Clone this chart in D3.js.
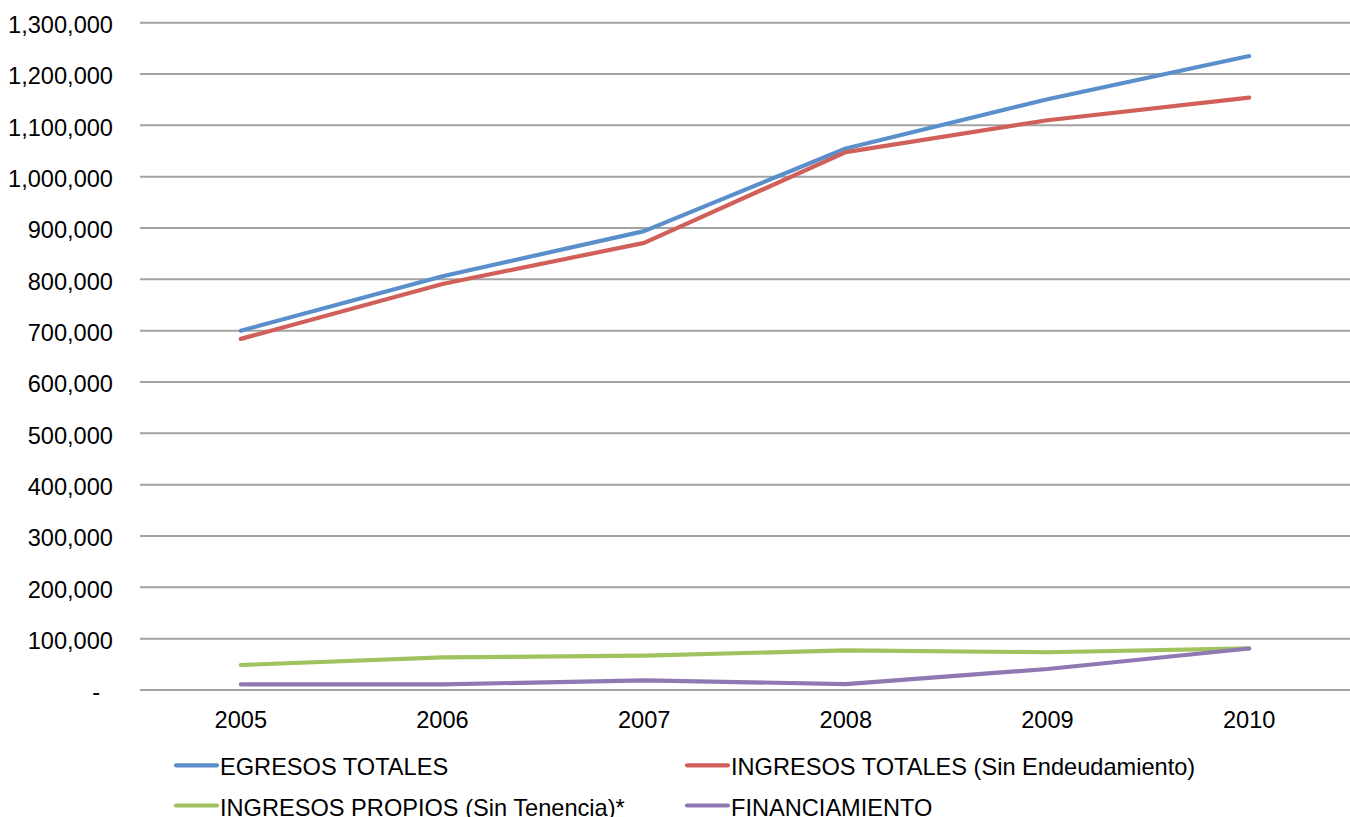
<!DOCTYPE html>
<html>
<head>
<meta charset="utf-8">
<script src="https://cdn.jsdelivr.net/npm/d3@7/dist/d3.min.js"></script>
<style>
  html, body { margin: 0; padding: 0; background: #fff; }
  svg { display: block; font-family: "Liberation Sans", Arial, sans-serif; }
</style>
</head>
<body>
<svg id="chart" width="1350" height="817"></svg>
<script>
// Years on the category axis
const years = ["2005", "2006", "2007", "2008", "2009", "2010"];

// Series values (pesos)
const egresosTotales   = [700000, 806000, 894000, 1055000, 1151000, 1235000];
const ingresosTotales  = [684000, 791000, 871000, 1048000, 1110000, 1154000];
const ingresosPropios  = [48700, 63500, 66800, 77300, 73500, 81000];
const financiamiento   = [11000, 11000, 18900, 11500, 40900, 80800];

// Series names and colours
const seriesNames  = ["EGRESOS TOTALES", "INGRESOS TOTALES (Sin Endeudamiento)",
                      "INGRESOS PROPIOS (Sin Tenencia)*", "FINANCIAMIENTO"];
const seriesColors = ["#5A8FCC", "#D2605A", "#A0C35F", "#9078B2"];

// Value-axis ticks
const yTicks = d3.range(0, 1300001, 100000);

const seriesValues = [egresosTotales, ingresosTotales, ingresosPropios, financiamiento];
const series = seriesNames.map((name, i) => ({
  name, color: seriesColors[i],
  values: years.map((yr, j) => ({ year: yr, value: seriesValues[i][j] }))
}));

const svg = d3.select("#chart");
const plotLeft = 140, plotRight = 1350, plotTop = 22.7, plotBottom = 690;
const fontSize = 23.6;

const x = d3.scalePoint().domain(years).range([plotLeft, plotRight]).padding(0.5);
const y = d3.scaleLinear().domain([0, 1300000]).range([plotBottom, plotTop]);

// Horizontal gridlines
svg.append("g")
  .selectAll("line")
  .data(yTicks)
  .join("line")
  .attr("x1", plotLeft).attr("x2", plotRight)
  .attr("y1", d => y(d)).attr("y2", d => y(d))
  .attr("stroke", "#a3a3a3")
  .attr("stroke-width", 2);

// Value-axis labels
const fmt = d3.format(",");
svg.append("g")
  .selectAll("text")
  .data(yTicks)
  .join("text")
  .attr("x", d => d === 0 ? 100 : 113)
  .attr("y", d => y(d) + 2)
  .attr("dy", "0.35em")
  .attr("text-anchor", "end")
  .attr("font-size", fontSize)
  .attr("fill", "#000")
  .text(d => d === 0 ? "-" : fmt(d));

// Category-axis labels
svg.append("g")
  .selectAll("text")
  .data(years)
  .join("text")
  .attr("x", d => x(d))
  .attr("y", 728)
  .attr("text-anchor", "middle")
  .attr("font-size", fontSize)
  .attr("fill", "#000")
  .text(d => d);

// Series lines
const line = d3.line().x(d => x(d.year)).y(d => y(d.value));
svg.append("g")
  .selectAll("path")
  .data(series)
  .join("path")
  .attr("d", d => line(d.values))
  .attr("fill", "none")
  .attr("stroke", d => d.color)
  .attr("stroke-width", 4.2)
  .attr("stroke-linejoin", "round")
  .attr("stroke-linecap", "round");

// Legend: two columns, two rows (second row runs to the bottom edge)
const legendCols = [176, 687];
const legendRows = [765.3, 805.5];
const legend = svg.append("g")
  .selectAll("g")
  .data(series)
  .join("g")
  .attr("transform", (d, i) => `translate(${legendCols[i % 2]},${legendRows[Math.floor(i / 2)]})`);

legend.append("line")
  .attr("x1", 0).attr("x2", 41)
  .attr("y1", 0).attr("y2", 0)
  .attr("stroke", d => d.color)
  .attr("stroke-width", 4.2)
  .attr("stroke-linecap", "round");

legend.append("text")
  .attr("x", 44)
  .attr("y", 10)
  .attr("font-size", fontSize)
  .attr("fill", "#000")
  .text(d => d.name);
</script>
</body>
</html>
